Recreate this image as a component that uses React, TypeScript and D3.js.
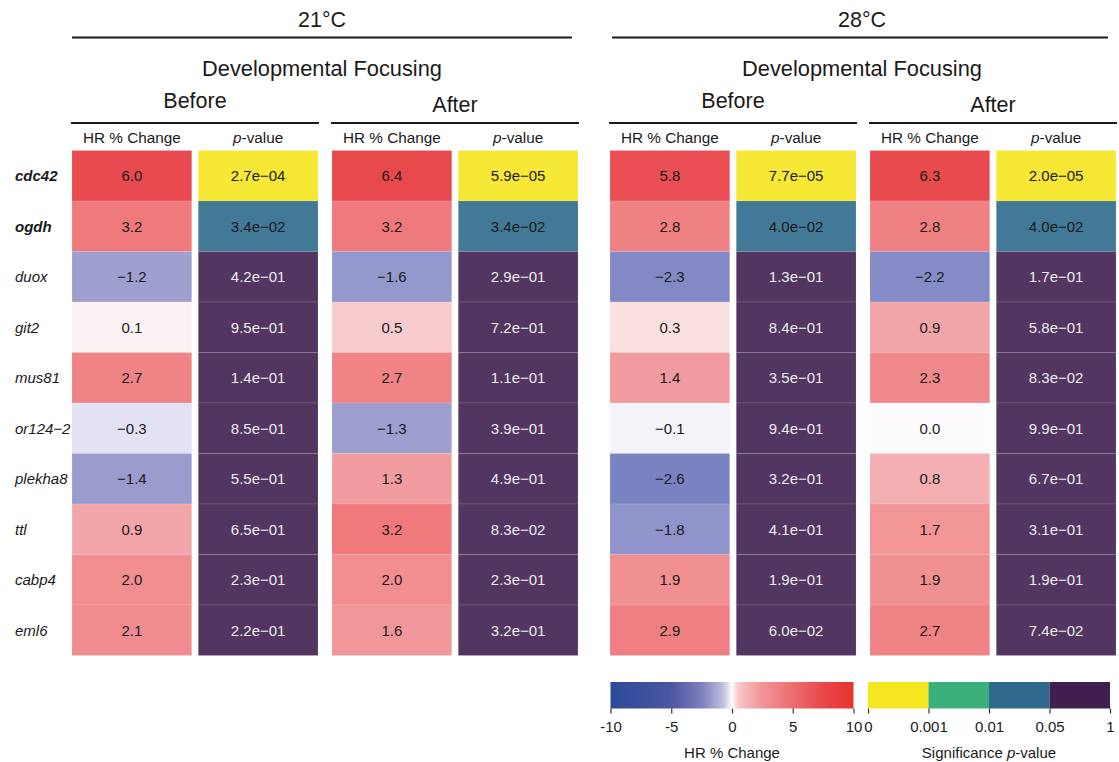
import React, { useRef, useEffect } from 'react';
import * as d3 from 'd3';

// gene rows
const genes = ['cdc42', 'ogdh', 'duox', 'git2', 'mus81', 'or124\u22122', 'plekha8', 'ttl', 'cabp4', 'eml6'];
const boldGenes = ['cdc42', 'ogdh'];

// HR % change and p-values per condition
const hr21Before = [6.0, 3.2, -1.2, 0.1, 2.7, -0.3, -1.4, 0.9, 2.0, 2.1];
const p21Before = [2.7e-4, 3.4e-2, 4.2e-1, 9.5e-1, 1.4e-1, 8.5e-1, 5.5e-1, 6.5e-1, 2.3e-1, 2.2e-1];
const hr21After = [6.4, 3.16, -1.6, 0.5, 2.7, -1.3, 1.3, 3.24, 2.0, 1.6];
const p21After = [5.9e-5, 3.4e-2, 2.9e-1, 7.2e-1, 1.1e-1, 3.9e-1, 4.9e-1, 8.3e-2, 2.3e-1, 3.2e-1];
const hr28Before = [5.8, 2.8, -2.3, 0.3, 1.4, -0.1, -2.6, -1.8, 1.9, 2.9];
const p28Before = [7.7e-5, 4.0e-2, 1.3e-1, 8.4e-1, 3.5e-1, 9.4e-1, 3.2e-1, 4.1e-1, 1.9e-1, 6.0e-2];
const hr28After = [6.3, 2.8, -2.2, 0.9, 2.3, 0.0, 0.8, 1.7, 1.9, 2.7];
const p28After = [2.0e-5, 4.0e-2, 1.7e-1, 5.8e-1, 8.3e-2, 9.9e-1, 6.7e-1, 3.1e-1, 1.9e-1, 7.4e-2];

// legend ticks
const hrTicks = [-10, -5, 0, 5, 10];
const pTickLabels = ['0', '0.001', '0.01', '0.05', '1'];
const pBreaks = [0.001, 0.01, 0.05];

const FONT = 'Liberation Sans, Arial, Helvetica, sans-serif';
const W = 1119;
const H = 762;

const blocks = [
  { temp: '21°C', phase: 'Before', hr: hr21Before, p: p21Before, x0: 72, labelY: 101 },
  { temp: '21°C', phase: 'After', hr: hr21After, p: p21After, x0: 332, labelY: 105 },
  { temp: '28°C', phase: 'Before', hr: hr28Before, p: p28Before, x0: 610, labelY: 101 },
  { temp: '28°C', phase: 'After', hr: hr28After, p: p28After, x0: 870, labelY: 105 },
];
const panels = [
  { temp: '21°C', x1: 72, x2: 572, cx: 322 },
  { temp: '28°C', x1: 612, x2: 1108, cx: 862 },
];

const BLOCK_W = 246;

// cell colours (drawn at 0.9 opacity, like the original)
const hrColor = d3.scaleLinear<string>()
  .domain([-10, -2.6, -1.2, -0.3, 0, 0.3, 0.9, 2, 3.2, 6, 10])
  .range(['#2c4a9a', '#6c75bb', '#9696cb', '#dfdff1', '#fdfbfd', '#fbddde', '#f09b9e', '#ee8285', '#ed6b6e', '#e5373c', '#e3261f'])
  .clamp(true);

// colour bar in the legend is a bit softer
const hrLegendColor = d3.scaleLinear<string>()
  .domain([-10, -5, -2.5, -0.7, 0, 0.5, 2.5, 5, 7.5, 10])
  .range(['#2c4a9a', '#4b55a1', '#7d80bb', '#c0c0e0', '#ffffff', '#f6c6c7', '#f09597', '#ec6d70', '#e8484b', '#e5332a']);

const pColors = ['#f5e61f', '#3bb07a', '#2d6a8b', '#3f1f50'];
const pColor = d3.scaleThreshold<number, string>().domain(pBreaks).range(pColors);

const fmtHR = (v: number) => v.toFixed(1).replace('-', '\u2212');
const fmtP = (v: number) => {
  const [m, e] = v.toExponential(1).split('e');
  const n = Math.abs(+e);
  const sign = +e < 0 ? '\u2212' : '+';
  return `${m}e${sign}${n < 10 ? '0' + n : n}`;
};

const App: React.FC = () => {
  const hrAxisRef = useRef<SVGGElement | null>(null);
  const pAxisRef = useRef<SVGGElement | null>(null);

  const y = d3.scaleBand<string>().domain(genes).range([150.5, 655.5]).padding(0);
  const col = d3.scaleBand<string>().domain(['hr', 'p']).range([0, BLOCK_W]).paddingInner(0.052);

  const hrLegendX = d3.scaleLinear().domain([-10, 10]).range([610.5, 853.5]);
  const pLegendX = d3.scalePoint<string>().domain(pTickLabels).range([868, 1110]);

  useEffect(() => {
    const styleAxis = (g: d3.Selection<SVGGElement, unknown, null, undefined>) => {
      g.select('.domain').remove();
      g.selectAll('.tick line').attr('stroke', '#333').attr('stroke-width', 1.2);
      g.selectAll('.tick text')
        .attr('fill', '#1a1a1a')
        .attr('font-size', 15)
        .attr('font-family', FONT)
        .attr('dy', '0.95em');
    };
    if (hrAxisRef.current) {
      const g = d3.select(hrAxisRef.current);
      g.selectAll('*').remove();
      g.call(d3.axisBottom(hrLegendX).tickValues(hrTicks).tickSize(5).tickPadding(4).tickFormat(d => String(d)));
      styleAxis(g);
    }
    if (pAxisRef.current) {
      const g = d3.select(pAxisRef.current);
      g.selectAll('*').remove();
      g.call(d3.axisBottom(pLegendX).tickSize(5).tickPadding(4));
      styleAxis(g);
    }
  }, []);

  const gradStops = d3.range(0, 1.0001, 0.02).map(t => ({
    offset: t,
    color: hrLegendColor(-10 + 20 * t),
  }));

  const pBins = pColors.map((c, i) => ({
    color: c,
    x1: pLegendX(pTickLabels[i]) as number,
    x2: pLegendX(pTickLabels[i + 1]) as number,
  }));

  return (
    <svg width={W} height={H} style={{ position: 'absolute', left: 0, top: 0, background: 'white' }} fontFamily={FONT}>
      <defs>
        <linearGradient id="hrGrad" x1="0" x2="1" y1="0" y2="0">
          {gradStops.map((s, i) => (
            <stop key={i} offset={s.offset} stopColor={s.color} />
          ))}
        </linearGradient>
      </defs>

      {/* temperature panels */}
      {panels.map(p => (
        <g key={p.temp}>
          <text x={p.cx} y={20} textAnchor="middle" dominantBaseline="central" fontSize={21.5} fill="#1a1a1a">{p.temp}</text>
          <line x1={p.x1} x2={p.x2} y1={37.5} y2={37.5} stroke="#1a1a1a" strokeWidth={2} />
          <text x={p.cx} y={68} textAnchor="middle" dominantBaseline="central" fontSize={21.8} fill="#1a1a1a">Developmental Focusing</text>
        </g>
      ))}

      {/* blocks */}
      {blocks.map(b => {
        const hx = b.x0 + (col('hr') as number);
        const px = b.x0 + (col('p') as number);
        const bw = col.bandwidth();
        return (
          <g key={b.temp + b.phase}>
            <text x={b.x0 + BLOCK_W / 2} y={b.labelY} textAnchor="middle" dominantBaseline="central" fontSize={21.5} fill="#1a1a1a">{b.phase}</text>
            <line x1={b.x0 - 1} x2={b.x0 + BLOCK_W + 1} y1={123} y2={123} stroke="#1a1a1a" strokeWidth={2} />
            <text x={hx + bw / 2} y={137} textAnchor="middle" dominantBaseline="central" fontSize={15.3} fill="#1a1a1a">HR % Change</text>
            <text x={px + bw / 2} y={137} textAnchor="middle" dominantBaseline="central" fontSize={15.3} fill="#1a1a1a">
              <tspan fontStyle="italic">p</tspan>-value
            </text>
            {genes.map((g, i) => {
              const yy = y(g) as number;
              const pv = b.p[i];
              const pc = pColor(pv);
              return (
                <g key={g}>
                  <rect x={hx} y={yy} width={bw} height={y.bandwidth()} fill={hrColor(b.hr[i])} fillOpacity={0.9} stroke="#fff" strokeOpacity={0.15} strokeWidth={0.8} />
                  <text x={hx + bw / 2} y={yy + y.bandwidth() / 2} textAnchor="middle" dominantBaseline="central" fontSize={15} fill="#1a1a1a">{fmtHR(b.hr[i])}</text>
                  <rect x={px} y={yy} width={bw} height={y.bandwidth()} fill={pc} fillOpacity={0.9} stroke="#fff" strokeOpacity={0.15} strokeWidth={0.8} />
                  <text x={px + bw / 2} y={yy + y.bandwidth() / 2} textAnchor="middle" dominantBaseline="central" fontSize={15} fill={pv > 0.05 ? '#ececec' : '#1a1a1a'}>{fmtP(pv)}</text>
                </g>
              );
            })}
          </g>
        );
      })}

      {/* gene labels */}
      {genes.map(g => (
        <text key={g} x={15} y={(y(g) as number) + y.bandwidth() / 2} dominantBaseline="central" fontSize={15} fontStyle="italic"
          fontWeight={boldGenes.includes(g) ? 'bold' : 'normal'} fill="#1a1a1a">{g}</text>
      ))}

      {/* HR legend */}
      <rect x={hrLegendX(-10)} y={682} width={hrLegendX(10) - hrLegendX(-10)} height={26.5} fill="url(#hrGrad)" />
      <g ref={hrAxisRef} transform="translate(0,708.5)" />
      <text x={(hrLegendX(-10) + hrLegendX(10)) / 2} y={752} textAnchor="middle" dominantBaseline="central" fontSize={15} fill="#1a1a1a">HR % Change</text>

      {/* p-value legend */}
      {pBins.map((b, i) => (
        <rect key={i} x={b.x1} y={682} width={b.x2 - b.x1} height={26.5} fill={b.color} />
      ))}
      <g ref={pAxisRef} transform="translate(0,708.5)" />
      <text x={(pLegendX('0')! + pLegendX('1')!) / 2} y={752} textAnchor="middle" dominantBaseline="central" fontSize={15} fill="#1a1a1a">
        Significance <tspan fontStyle="italic">p</tspan>-value
      </text>
    </svg>
  );
};

export default App;
